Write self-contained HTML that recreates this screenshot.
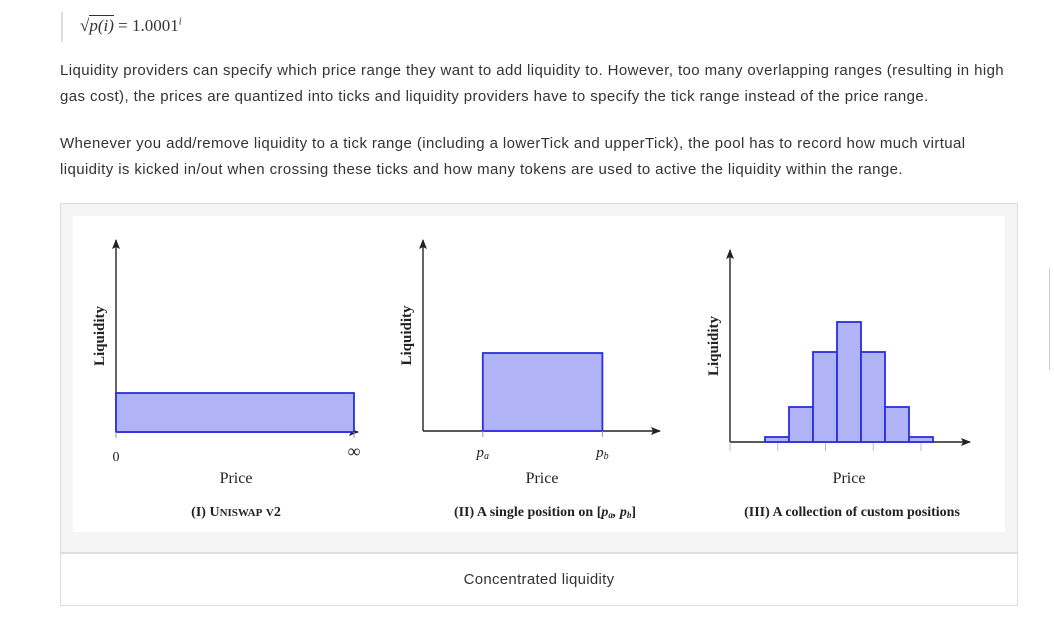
<!DOCTYPE html>
<html><head><meta charset="utf-8"><style>
body{margin:0;width:1054px;height:631px;background:#fff;font-family:"Liberation Sans",sans-serif;color:#333;position:relative;overflow:hidden}
.p{position:absolute;left:60px;font-size:15px;letter-spacing:0.4px;line-height:26px;width:962px}
</style></head><body>
<div style="position:absolute;left:61px;top:12px;width:2px;height:30px;background:#ddd"></div>
<div style="position:absolute;left:80px;top:16px;font-family:'Liberation Serif',serif;font-size:17px;color:#333">√<span style="border-top:1px solid #333;font-style:italic">p(i)</span> = 1.0001<sup style="font-size:10px;font-style:italic">i</sup></div>
<div class="p" style="top:58px">Liquidity providers can specify which price range they want to add liquidity to. However, too many overlapping ranges (resulting in high gas cost), the prices are quantized into ticks and liquidity providers have to specify the tick range instead of the price range.</div>
<div class="p" style="top:131px">Whenever you add/remove liquidity to a tick range (including a lowerTick and upperTick), the pool has to record how much virtual liquidity is kicked in/out when crossing these ticks and how many tokens are used to active the liquidity within the range.</div>
<div style="position:absolute;left:60px;top:203px;width:956px;height:348px;background:#f5f5f5;border:1px solid #ddd"></div>
<div style="position:absolute;left:60px;top:552px;width:956px;height:51px;border:1px solid #ddd;border-top:2px solid #ddd;background:#fff;text-align:center;line-height:52px;font-size:15px;letter-spacing:0.3px">Concentrated liquidity</div>
<div style="position:absolute;left:1049px;top:268px;width:1px;height:102px;background:#ccc"></div>
<svg style="position:absolute;left:0;top:0" width="1054" height="631" font-family="Liberation Serif,serif" fill="#222">
<defs><marker id="ar" markerUnits="userSpaceOnUse" markerWidth="10" markerHeight="8" refX="9" refY="4" orient="auto"><path d="M0,0 L10,4 L0,8 L2,4z" fill="#222"/></marker></defs>
<rect x="73" y="216" width="932" height="316" fill="#fff"/>
<g id="g"></g>
</svg>
<script>
const p1Range=[0,1], p1Liq=[0.3];
const p2Range=[0.26,0.78], p2Liq=[0.6];
const p3Edges=[1,2,3,4,5,6,7,8];
const p3Liq=[5,35,90,120,90,35,5];
const g=document.getElementById('g');
const NS='http://www.w3.org/2000/svg';
function el(t,a,txt){const e=document.createElementNS(NS,t);for(const k in a)e.setAttribute(k,a[k]);if(txt)e.textContent=txt;g.appendChild(e);return e;}
function axes(x0,y0,x1,ytop,name){
 let e=el('line',{x1:x0,y1:y0,x2:x0,y2:ytop,stroke:'#222','stroke-width':1.4,'marker-end':'url(#ar)'});
 
 e=el('line',{x1:x0,y1:y0,x2:x1,y2:y0,stroke:'#222','stroke-width':1.4,'marker-end':'url(#ar)'});
 
 e=el('text',{x:0,y:0,transform:`translate(${x0-12},${(y0+ytop)/2}) rotate(-90)`,'text-anchor':'middle','font-size':15,'font-weight':'bold'},'Liquidity');
 
}
function bar(x,y,w,h,name){const e=el('rect',{x,y,width:w,height:h,fill:'#b0b4f7',stroke:'#2a2ee0','stroke-width':1.8});}
function txt(x,y,s,sz,name,extra){const e=el('text',Object.assign({x,y,'text-anchor':'middle','font-size':sz},extra||{}),s);return e;}
// Panel I
{const x0=116,y0=432,W=238,H=130;const sx=v=>x0+v*W,sy=v=>y0-v*H;
axes(x0,y0,358,240,'panel-1');
bar(sx(p1Range[0]),sy(p1Liq[0]),sx(p1Range[1])-sx(p1Range[0]),y0-sy(p1Liq[0]),'panel-1-bar');
el('line',{x1:x0,y1:y0,x2:x0,y2:y0+6,stroke:'#999'});el('line',{x1:sx(1),y1:y0,x2:sx(1),y2:y0+6,stroke:'#999'});
txt(x0,461,'0',14,'tick-zero');txt(sx(1),457,'∞',18,'tick-infinity');
txt(236,483,'Price',16,'panel-1-x-title');
const t=txt(236,516,'',14,'panel-1-caption',{'font-weight':'bold'});t.innerHTML='(I) U<tspan font-size="11">NISWAP</tspan> <tspan font-size="11">V</tspan>2';}
// Panel II
{const x0=423,y0=431,W=230,H=130;const sx=v=>x0+v*W,sy=v=>y0-v*H;
axes(x0,y0,660,240,'panel-2');
bar(sx(p2Range[0]),sy(p2Liq[0]),sx(p2Range[1])-sx(p2Range[0]),y0-sy(p2Liq[0]),'panel-2-bar');
el('line',{x1:sx(p2Range[0]),y1:y0,x2:sx(p2Range[0]),y2:y0+6,stroke:'#999'});el('line',{x1:sx(p2Range[1]),y1:y0,x2:sx(p2Range[1]),y2:y0+6,stroke:'#999'});
let e=txt(sx(p2Range[0]),457,'',15,'tick-pa',{'font-style':'italic'});e.innerHTML='p<tspan font-size="10" dy="2">a</tspan>';
e=txt(sx(p2Range[1]),457,'',15,'tick-pb',{'font-style':'italic'});e.innerHTML='p<tspan font-size="10" dy="2">b</tspan>';
txt(542,483,'Price',16,'panel-2-x-title');
e=txt(545,516,'',14,'panel-2-caption',{'font-weight':'bold'});e.innerHTML='(II) A single position on [<tspan font-style="italic">p<tspan font-size="9" dy="2">a</tspan><tspan dy="-2">, p</tspan><tspan font-size="9" dy="2">b</tspan></tspan><tspan dy="-2">]</tspan>';}
// Panel III
{const x0=730,y0=442;const sx=v=>741+v*24,sy=v=>y0-v;
axes(x0,y0,970,250,'panel-3');
[0,2,4,6,8].forEach((v,i)=>{const e=el('line',{x1:x0+i*47.75,y1:y0,x2:x0+i*47.75,y2:y0+9,stroke:'#bbb'});});
p3Liq.forEach((v,i)=>bar(sx(p3Edges[i]),sy(v),sx(p3Edges[i+1])-sx(p3Edges[i]),v,'panel-3-bar-'+(i+1)));
txt(849,483,'Price',16,'panel-3-x-title');
txt(852,516,'(III) A collection of custom positions',14,'panel-3-caption',{'font-weight':'bold'});}
</script>
</body></html>
